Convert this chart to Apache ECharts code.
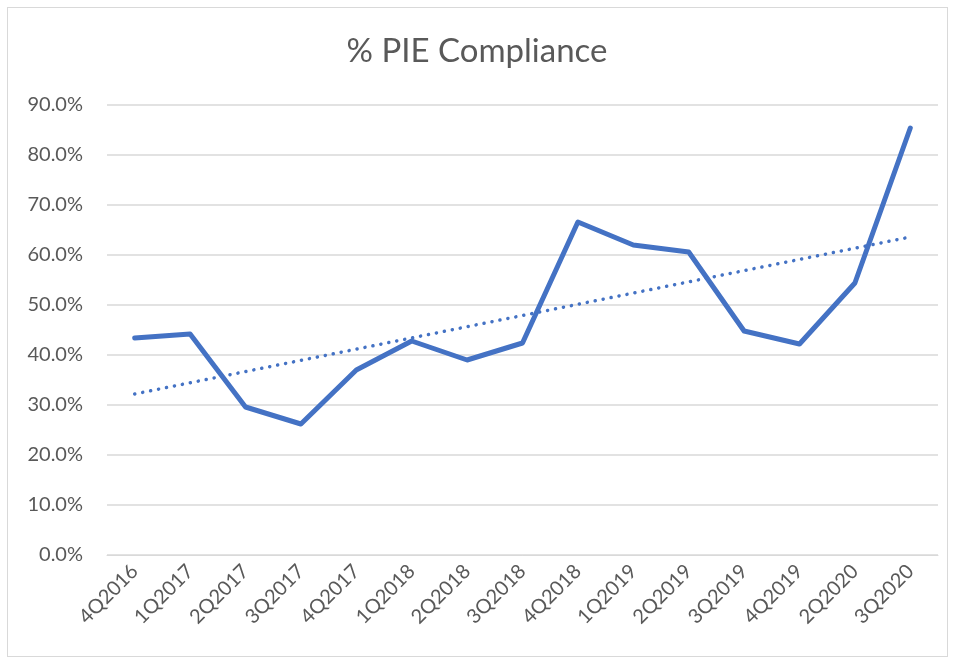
<!DOCTYPE html>
<html>
<head>
<meta charset="utf-8">
<script src="https://cdn.jsdelivr.net/npm/echarts@6/dist/echarts.min.js"></script>
<style>
  html, body { margin: 0; padding: 0; background: #fff; }
  #frame {
    position: absolute; left: 7px; top: 7px; width: 939px; height: 648px;
    border: 1px solid #d9d9d9;
  }
  #chart { width: 954px; height: 661px; position: absolute; left: 0; top: 0; }
</style>
</head>
<body>
<div id="frame"></div>
<div id="chart"></div>
<script>
// quarters on the x axis
const quarters = ['4Q2016', '1Q2017', '2Q2017', '3Q2017', '4Q2017', '1Q2018', '2Q2018', '3Q2018',
  '4Q2018', '1Q2019', '2Q2019', '3Q2019', '4Q2019', '2Q2020', '3Q2020'];
// % PIE compliance per quarter
const compliance = [43.4, 44.2, 29.6, 26.2, 37.0, 42.8, 39.0, 42.4, 66.6, 62.0, 60.6, 44.8, 42.2, 54.4, 85.4];
// linear trend: start and end values
const trendEnds = [32.2, 63.6];
const trend = quarters.map((q, i) => i === 0 ? trendEnds[0] : (i === quarters.length - 1 ? trendEnds[1] : null));

const myChart = echarts.init(document.getElementById('chart'));
const font = 'Lato, "Open Sans", sans-serif';
myChart.setOption({
  animation: false,
  title: {
    text: '% PIE Compliance',
    left: 'center',
    top: 30,
    textStyle: { color: '#595959', fontSize: 33, fontWeight: 'normal', fontFamily: font }
  },
  grid: { left: 107, right: 16, top: 105, bottom: 106 },
  xAxis: {
    type: 'category',
    data: quarters,
    boundaryGap: true,
    axisLine: { show: true, lineStyle: { color: '#d9d9d9' } },
    axisTick: { show: false },
    axisLabel: { rotate: 45, color: '#595959', fontSize: 20, fontFamily: font, margin: 13, interval: 0 }
  },
  yAxis: {
    type: 'value',
    min: 0, max: 90, interval: 10,
    axisLine: { show: false },
    axisTick: { show: false },
    splitLine: { lineStyle: { color: '#d9d9d9', width: 1.5 } },
    axisLabel: { color: '#595959', fontSize: 20, fontFamily: font, margin: 24,
      formatter: v => v.toFixed(1) + '%' }
  },
  series: [
    {
      type: 'line',
      data: compliance,
      symbol: 'none',
      lineStyle: { color: '#4472C4', width: 5, join: 'round', cap: 'round' }
    },
    {
      type: 'line',
      data: trend,
      connectNulls: true,
      symbol: 'none',
      lineStyle: { color: '#4472C4', width: 3.5, type: [0.1, 8], cap: 'round' }
    }
  ]
});
</script>
</body>
</html>
